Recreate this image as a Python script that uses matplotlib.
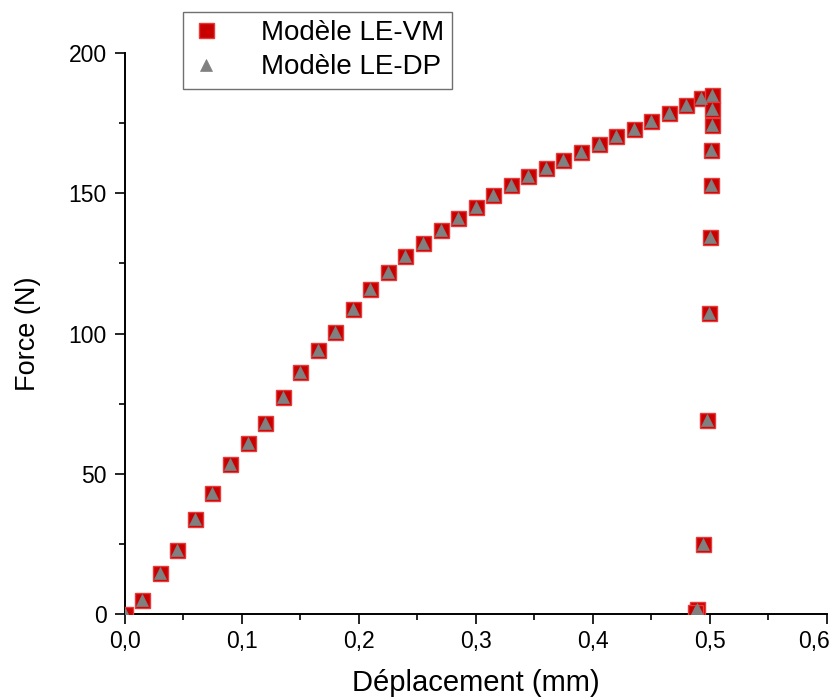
"""Force-displacement curve, LE-VM vs LE-DP models."""

import matplotlib

matplotlib.use("Agg")
import matplotlib.pyplot as plt
from matplotlib.ticker import FuncFormatter, MultipleLocator
from matplotlib.transforms import ScaledTranslation

plt.rcParams["font.family"] = ["Liberation Sans", "DejaVu Sans"]

# displacement (mm) and force (N)
deplacement = [
    0.0, 0.015, 0.03, 0.045, 0.06, 0.075, 0.09, 0.105, 0.12, 0.135,
    0.15, 0.165, 0.18, 0.195, 0.21, 0.225, 0.24, 0.255, 0.27, 0.285,
    0.30, 0.315, 0.33, 0.345, 0.36, 0.375, 0.39, 0.405, 0.42, 0.435,
    0.45, 0.465, 0.48, 0.493, 0.502, 0.502, 0.502, 0.5015, 0.501, 0.500,
    0.4995, 0.498, 0.494, 0.4895, 0.4875,
]
force_vm = [
    0.0, 5.1, 14.7, 22.8, 34.1, 43.4, 53.5, 61.1, 68.0, 77.5,
    86.5, 94.2, 100.7, 108.7, 115.8, 121.8, 127.5, 132.4, 136.9, 141.1,
    145.2, 149.4, 152.9, 156.2, 159.1, 161.9, 164.8, 167.6, 170.4, 172.9,
    175.6, 178.5, 181.4, 184.0, 185.2, 179.9, 174.5, 165.6, 153.0, 134.6,
    107.4, 69.3, 25.1, 2.0, 1.0,
]
# the DP model gives the same curve
force_dp = list(force_vm)

x_ticks = [0.0, 0.1, 0.2, 0.3, 0.4, 0.5, 0.6]
y_ticks = [0, 50, 100, 150, 200]

fig = plt.figure(figsize=(8.39, 7.0), dpi=100)
ax = fig.add_axes([0.1486, 0.1224, 0.8367, 0.8019])

ax.plot(
    deplacement, force_vm, linestyle="none", marker="s", markersize=10.8,
    markerfacecolor="#c80000", markeredgecolor="#e83a3a", markeredgewidth=1.0,
    label="Modèle LE-VM", zorder=3,
)
ax.plot(
    deplacement, force_dp, linestyle="none", marker="^", markersize=8.5,
    markerfacecolor="#808080", markeredgecolor="#808080", markeredgewidth=0.5,
    label="Modèle LE-DP", zorder=4,
)

ax.set_xlim(0, 0.6)
ax.set_ylim(0, 200)
ax.set_xticks(x_ticks)
ax.set_yticks(y_ticks)
ax.xaxis.set_minor_locator(MultipleLocator(0.05))
ax.yaxis.set_minor_locator(MultipleLocator(25))
ax.xaxis.set_major_formatter(FuncFormatter(lambda v, p: f"{v:.1f}".replace(".", ",")))

for side in ("top", "right"):
    ax.spines[side].set_visible(False)
for side in ("left", "bottom"):
    ax.spines[side].set_linewidth(1.4)

ax.tick_params(which="major", direction="out", length=7, width=1.2,
               labelsize=16.5, pad=4)
ax.tick_params(axis="y", which="major", pad=6)
ax.tick_params(which="minor", direction="out", length=4, width=1.2)

# last x label sits at the figure edge, nudge it left so it stays inside
fig.canvas.draw()
last = ax.get_xticklabels()[-1]
last.set_transform(last.get_transform() + ScaledTranslation(-9 / 72, 0, fig.dpi_scale_trans))

ax.set_xlabel("Déplacement (mm)", fontsize=21, labelpad=12)
ax.set_ylabel("Force (N)", fontsize=19.5, labelpad=20)

leg = ax.legend(
    loc="upper left", bbox_to_anchor=(0.2178, 0.9833),
    bbox_transform=fig.transFigure, borderaxespad=0, fontsize=20,
    frameon=True, fancybox=False, edgecolor="#707070", framealpha=1,
    handlelength=1.1, handletextpad=1.4, borderpad=0.3, labelspacing=0.3,
)
leg.get_frame().set_linewidth(1.0)
leg.set_zorder(10)

fig.savefig("out.png", dpi=100)
